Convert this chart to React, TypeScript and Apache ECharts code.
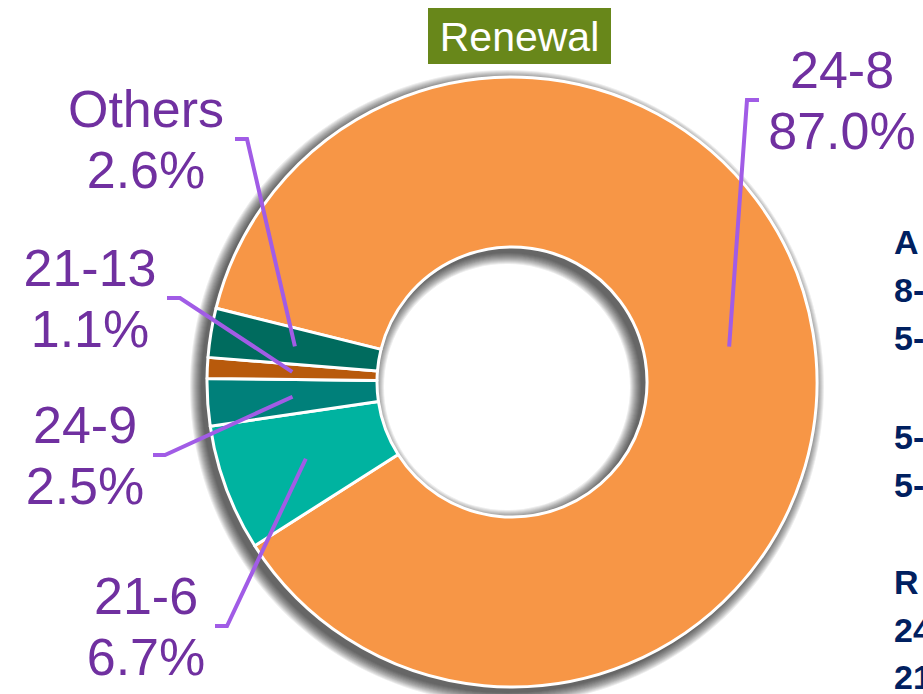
import React, { useEffect, useRef } from "react";
import * as echarts from "echarts";

// ---- data ----
const categories = ["24-8", "21-6", "24-9", "21-13", "Others"];
const shares = [87.0, 6.7, 2.5, 1.1, 2.6];
const titleText = "Renewal";
const sideLabels = ["A", "8-", "5-", "5-", "5-", "R", "24", "21"];

// ---- styles / layout ----
const sliceColors = ["#F79646", "#00B3A0", "#00807A", "#B85A0C", "#006B5E"];
const CENTER = [512, 382];
const R_IN = 135;
const R_OUT = 305;
const START_ANGLE = 166;
const LINE_R = 220;
const SHADOW_DX = -5;
const SHADOW_DY = 5;
const SHADOW_LAYERS = 12;
const SHADOW_ALPHA = 0.07;
// [label centre x, tick y, corner x, end x]
const labelAnchors = [
  [842, 100, 747, 759],
  [146, 626, 227, 215],
  [85, 455, 165, 153],
  [90, 298, 180, 167],
  [146, 139, 247, 235],
];
const sideLabelY = [242, 290, 338, 437, 485, 582, 630, 677];

export default function App() {
  const ref = useRef<HTMLDivElement>(null);

  useEffect(() => {
    if (!ref.current) return;
    const chart = echarts.init(ref.current, null, { renderer: "svg" });
    const total = shares.reduce((a, b) => a + b, 0);

    const shCenter = [CENTER[0] + SHADOW_DX, CENTER[1] + SHADOW_DY];
    const shadowSeries = Array.from({ length: SHADOW_LAYERS }, (_, k) => ({
      type: "pie",
      name: "shadow" + k,
      silent: true,
      z: 1,
      center: shCenter,
      radius: [R_IN - k - 1, R_OUT + k + 1],
      label: { show: false },
      labelLine: { show: false },
      itemStyle: { color: `rgba(0,0,0,${SHADOW_ALPHA})`, borderWidth: 0 },
      data: [{ value: 1 }],
    }));

    const option: any = {
      animation: false,
      backgroundColor: "#ffffff",
      graphic: [
        {
          type: "rect",
          shape: { x: 428, y: 8, width: 183, height: 56 },
          style: { fill: "#68871A" },
          z: 10,
        },
        {
          type: "text",
          x: 519.5,
          y: 37,
          z: 11,
          style: {
            text: titleText,
            fill: "#ffffff",
            font: '41px "Liberation Sans", Arial, sans-serif',
            textAlign: "center",
            textVerticalAlign: "middle",
          },
        },
        ...sideLabels.map((t, i) => ({
          type: "text",
          x: 894,
          y: sideLabelY[i],
          z: 11,
          style: {
            text: t,
            fill: "#002060",
            font: 'bold 34px "Liberation Sans", Arial, sans-serif',
            textAlign: "left",
            textVerticalAlign: "middle",
          },
        })),
      ],
      series: [
        ...shadowSeries,
        {
          type: "pie",
          name: titleText,
          z: 2,
          silent: true,
          center: CENTER,
          radius: [R_IN, R_OUT],
          startAngle: START_ANGLE,
          clockwise: true,
          itemStyle: { borderColor: "#ffffff", borderWidth: 3 },
          label: { show: false },
          labelLine: { show: false },
          data: categories.map((c, i) => ({
            name: c,
            value: shares[i],
            itemStyle: { color: sliceColors[i] },
          })),
        },
        {
          type: "pie",
          name: "labels",
          z: 3,
          silent: true,
          center: CENTER,
          radius: [R_IN, R_OUT],
          startAngle: START_ANGLE,
          clockwise: true,
          avoidLabelOverlap: false,
          itemStyle: { color: "rgba(0,0,0,0)", borderWidth: 0 },
          label: {
            show: true,
            position: "outside",
            color: "#7030A0",
            fontFamily: '"Liberation Sans", Arial, sans-serif',
            fontSize: 52,
            lineHeight: 61,
            align: "center",
            formatter: (p: any) => `${p.name}\n${Number(p.value).toFixed(1)}%`,
          },
          labelLine: {
            show: true,
            smooth: false,
            lineStyle: { color: "#A15CE6", width: 4 },
          },
          labelLayout: (params: any) => {
            const i = params.dataIndex;
            let cum = 0;
            for (let k = 0; k < i; k++) cum += shares[k];
            const mid =
              ((START_ANGLE - ((cum + shares[i] / 2) / total) * 360) * Math.PI) / 180;
            const sx = CENTER[0] + LINE_R * Math.cos(mid);
            const sy = CENTER[1] - LINE_R * Math.sin(mid);
            const [lx, ty, cx, ex] = labelAnchors[i];
            return {
              x: lx,
              y: ty,
              align: "center",
              verticalAlign: "middle",
              labelLinePoints: [
                [sx, sy],
                [cx, ty],
                [ex, ty],
              ],
            };
          },
          data: categories.map((c, i) => ({
            name: c,
            value: shares[i],
            itemStyle: { color: "rgba(0,0,0,0)" },
          })),
        },
      ],
    };

    chart.setOption(option);
    return () => chart.dispose();
  }, []);

  return (
    <div
      ref={ref}
      style={{ position: "absolute", left: 0, top: 0, width: 923, height: 694 }}
    />
  );
}
